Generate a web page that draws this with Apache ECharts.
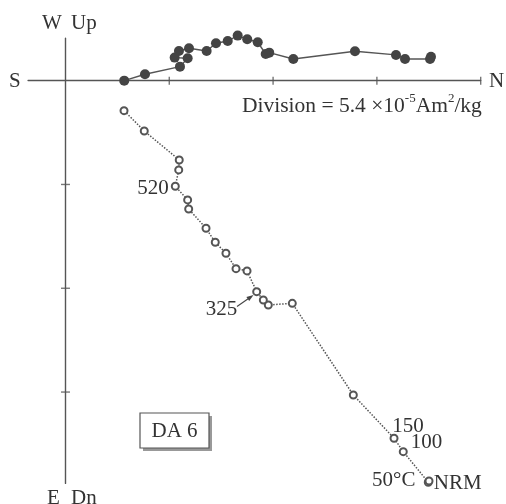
<!DOCTYPE html>
<html><head><meta charset="utf-8">
<script src="https://cdn.jsdelivr.net/npm/echarts@6/dist/echarts.min.js"></script>
<style>html,body{margin:0;padding:0;background:#fff}#c{width:506px;height:504px}</style>
</head><body><div id="c"></div>
<script>
// Zijderveld diagram, values in divisions (1 division = 5.4e-5 Am2/kg), ordered from NRM
// Horizontal projection (filled): N component vs W component
const horizN = [3.521, 3.512, 3.271, 3.184, 2.789, 2.195, 1.963, 1.929, 1.852, 1.751, 1.659,
                1.563, 1.450, 1.360, 1.190, 1.093, 1.052, 1.177, 1.103, 0.766, 0.566];
const horizW = [0.231, 0.209, 0.209, 0.248, 0.283, 0.209, 0.270, 0.257, 0.370, 0.399, 0.434,
                0.382, 0.360, 0.286, 0.312, 0.286, 0.222, 0.216, 0.135, 0.062, 0.000];
// Vertical projection (open): N component vs Up component
const vertN  = [3.495, 3.502, 3.254, 3.165, 2.773, 2.185, 1.954, 1.906, 1.842, 1.749, 1.643,
                1.546, 1.443, 1.354, 1.187, 1.177, 1.058, 1.091, 1.096, 0.759, 0.564];
const vertUp = [-3.869, -3.856, -3.574, -3.445, -3.028, -2.145, -2.161, -2.113, -2.033, -1.833, -1.811,
                -1.663, -1.557, -1.422, -1.236, -1.149, -1.017, -0.860, -0.764, -0.485, -0.289];
// Step labels (temperature, °C) attached to open points
const stepLabels = ['NRM', '50°C', '100', '150', '', '', '', '', '325', '', '',
                    '', '', '', '', '', '520', '', '', '', ''];
const xTicks = [1, 2, 3, 4];
const yTicks = [-1, -2, -3];
const divisionText = ['Division = 5.4 ×10', '-5', 'Am', '2', '/kg'];
const specimen = 'DA 6';

const FONT = 'Liberation Serif';
const FS = 21;
const TXT = '#333';
const labelStyle = {
  'NRM':  {position: 'right', distance: 1, offset: [0, 1]},
  '50°C': {position: 'left', distance: 9, offset: [0, 0]},
  '100':  {position: 'right', distance: 3, offset: [0, -9]},
  '150':  {position: 'top', distance: 0, offset: [14, 3]},
  '325':  {position: 'left', distance: 15, offset: [0, 18]},
  '520':  {position: 'left', distance: 2, offset: [0, 2]}
};

const openData = vertN.map((n, i) => {
  const t = stepLabels[i];
  const item = {value: [n, vertUp[i]]};
  if (t) {
    item.label = Object.assign({show: true, formatter: t, fontFamily: FONT, fontSize: FS, color: TXT}, labelStyle[t]);
  }
  return item;
});

const chart = echarts.init(document.getElementById('c'), null, {renderer: 'canvas'});
const axisCommon = {
  type: 'value',
  axisLine: {show: true, onZero: true, lineStyle: {color: '#555', width: 1.4}},
  axisTick: {show: false}, axisLabel: {show: false}, splitLine: {show: false}
};
const font = FS + 'px ' + FONT;
chart.setOption({
  animation: false,
  backgroundColor: '#fff',
  grid: {left: 28.1, top: 38.1, width: 452.6, height: 445.3},
  xAxis: Object.assign({min: -0.36, max: 4.0}, axisCommon),
  yAxis: Object.assign({min: -3.88, max: 0.41}, axisCommon),
  series: [
    {type: 'scatter', data: xTicks.map(v => [v, 0]), symbol: 'rect', symbolSize: [1.4, 8],
     itemStyle: {color: '#555'}, silent: true, z: 1},
    {type: 'scatter', data: yTicks.map(v => [0, v]), symbol: 'rect', symbolSize: [9, 1.4],
     itemStyle: {color: '#555'}, silent: true, z: 1},
    {type: 'line', data: horizN.map((n, i) => [n, horizW[i]]), clip: false,
     symbol: 'circle', symbolSize: 10, itemStyle: {color: '#444'},
     lineStyle: {color: '#555', width: 1.4}, z: 3},
    {type: 'line', data: openData, clip: false,
     symbol: 'emptyCircle', symbolSize: 7, itemStyle: {color: '#555', borderWidth: 1.2},
     lineStyle: {color: '#555', width: 1.5, type: 'dotted'}, z: 3}
  ],
  graphic: [
    {type: 'text', left: 42, top: 13, style: {text: 'W', font: font, fill: TXT}},
    {type: 'text', left: 71, top: 13, style: {text: 'Up', font: font, fill: TXT}},
    {type: 'text', left: 47, top: 488, style: {text: 'E', font: font, fill: TXT}},
    {type: 'text', left: 71, top: 488, style: {text: 'Dn', font: font, fill: TXT}},
    {type: 'text', left: 9, top: 71, style: {text: 'S', font: font, fill: TXT}},
    {type: 'text', left: 489, top: 71, style: {text: 'N', font: font, fill: TXT}},
    {type: 'text', left: 242, top: 92, style: {
      text: '{a|' + divisionText[0] + '}{s|' + divisionText[1] + '}{a|' + divisionText[2] + '}{s|' + divisionText[3] + '}{a|' + divisionText[4] + '}',
      rich: {
        a: {fontFamily: FONT, fontSize: 21.5, fill: TXT, lineHeight: 25, verticalAlign: 'bottom'},
        s: {fontFamily: FONT, fontSize: 13, fill: TXT, lineHeight: 25, verticalAlign: 'top'}
      }
    }},
    {type: 'rect', shape: {x: 143, y: 416, width: 69, height: 35}, style: {fill: '#999'}},
    {type: 'rect', shape: {x: 140, y: 413, width: 69, height: 35}, style: {fill: '#fff', stroke: '#555', lineWidth: 1.2}},
    {type: 'text', x: 174.5, y: 431, style: {text: specimen, font: font, fill: TXT, align: 'center', verticalAlign: 'middle'}},
    {type: 'line', shape: {x1: 237, y1: 306.5, x2: 248.5, y2: 298.6}, style: {stroke: '#444', lineWidth: 1.2}},
    {type: 'polygon', shape: {points: [[253.5, 295], [249.2, 301.1], [246.4, 297.0]]}, style: {fill: '#444'}}
  ]
});
</script></body></html>
